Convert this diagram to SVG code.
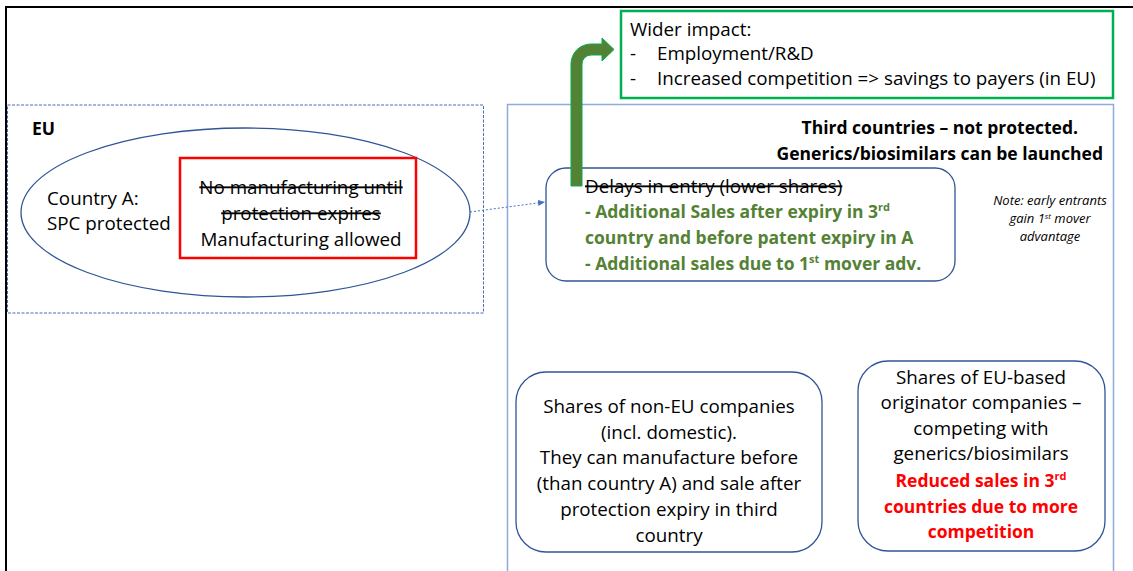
<svg xmlns="http://www.w3.org/2000/svg" width="1133" height="571" viewBox="0 0 1133 571">
<style>
text{font-family:"Open Sans","Noto Sans","Liberation Sans",sans-serif;font-size:18.8px;fill:#000}
.b{font-weight:bold;font-size:17.5px}
.g{fill:#548235;font-weight:bold;font-size:17.5px}
.r{fill:#ff0000;font-weight:bold;font-size:17.5px}
.c{text-anchor:middle}
.e{text-anchor:end}
.s{text-decoration:line-through}
.rb{fill:#fff;stroke:#2f5597;stroke-width:1.3}
.n{font-size:13px;font-style:italic}
</style>
<defs>
<marker id="ah" markerWidth="8" markerHeight="8" refX="7" refY="4" orient="auto" markerUnits="userSpaceOnUse">
<path d="M0,1 L7,4 L0,7 Z" fill="#4472c4"/>
</marker>
</defs>
<rect width="1133" height="571" fill="#fff"/>
<g id="frame">
<path d="M6,571 L6,7 L1133,7" fill="none" stroke="#000" stroke-width="2"/>
</g>
<g id="eu">
<rect x="7.5" y="105" width="476" height="208" fill="none" stroke="#4a6eb5" stroke-width="1" stroke-dasharray="3,1.5"/>
<text x="32" y="135" class="b">EU</text>
</g>
<g id="countryA">
<ellipse cx="245.5" cy="212.5" rx="224.5" ry="84.5" fill="#fff" stroke="#2f5597" stroke-width="1.3"/>
<text x="47" y="205">Country A:</text>
<text x="47" y="230">SPC protected</text>
</g>
<g id="manufacturing">
<rect x="180" y="158" width="236" height="100" fill="#fff" stroke="#ff0000" stroke-width="2.5"/>
<text x="301" y="194" class="c s">No manufacturing until</text>
<text x="301" y="220" class="c s">protection expires</text>
<text x="301" y="246" class="c">Manufacturing allowed</text>
</g>
<g id="third">
<rect x="507.5" y="104.5" width="606" height="480" fill="none" stroke="#8faadc" stroke-width="1.5"/>
<text x="1078" y="134" class="b e">Third countries – not protected.</text>
<text x="1103" y="160" class="b e">Generics/biosimilars can be launched</text>
</g>
<g id="wider">
<rect x="621" y="11" width="492" height="87" fill="#fff" stroke="#00b050" stroke-width="2.5"/>
<text x="630" y="36">Wider impact:</text>
<text x="630" y="60">-</text>
<text x="657" y="60">Employment/R&amp;D</text>
<text x="630" y="85">-</text>
<text x="657" y="85">Increased competition =&gt; savings to payers (in EU)</text>
</g>
<g id="delays">
<rect x="546" y="168" width="409" height="113" rx="20" class="rb"/>
<text x="585" y="193" class="s">Delays in entry (lower shares)</text>
<text x="585" y="218" class="g">- Additional Sales after expiry in 3<tspan dy="-7" font-size="11">rd</tspan></text>
<text x="585" y="244" class="g">country and before patent expiry in A</text>
<text x="585" y="270" class="g">- Additional sales due to 1<tspan dy="-7" font-size="11">st</tspan><tspan dy="7"> mover adv.</tspan></text>
</g>
<g id="note">
<text x="1050" y="205" class="n c">Note: early entrants</text>
<text x="1050" y="223" class="n c">gain 1<tspan dy="-4" font-size="8">st</tspan><tspan dy="4"> mover</tspan></text>
<text x="1050" y="241" class="n c">advantage</text>
</g>
<g id="nonEU">
<rect x="516" y="372" width="306" height="180" rx="30" class="rb"/>
<text x="669" y="413" class="c">Shares of non-EU companies</text>
<text x="669" y="439" class="c">(incl. domestic).</text>
<text x="669" y="464" class="c">They can manufacture before</text>
<text x="669" y="490" class="c">(than country A) and sale after</text>
<text x="669" y="516" class="c">protection expiry in third</text>
<text x="669" y="542" class="c">country</text>
</g>
<g id="euBased">
<rect x="858" y="361" width="247" height="190" rx="30" class="rb"/>
<text x="981" y="384" class="c">Shares of EU-based</text>
<text x="981" y="409" class="c">originator companies –</text>
<text x="981" y="435" class="c">competing with</text>
<text x="981" y="460" class="c">generics/biosimilars</text>
<text x="981" y="487" class="c r">Reduced sales in 3<tspan dy="-7" font-size="11">rd</tspan></text>
<text x="981" y="513" class="c r">countries due to more</text>
<text x="981" y="538" class="c r">competition</text>
</g>
<g id="connectors">
<path d="M470,212 L545,202" fill="none" stroke="#4472c4" stroke-width="1" stroke-dasharray="2,2" marker-end="url(#ah)"/>
<path d="M571,186 L571,64 A20,20 0 0 1 591,44 L602,44 L602,38 L614,49.5 L602,61 L602,55 L591,55 A9,9 0 0 0 582,64 L582,186 Z" fill="#548235" stroke="#00b050" stroke-width="1"/>
</g>
</svg>
